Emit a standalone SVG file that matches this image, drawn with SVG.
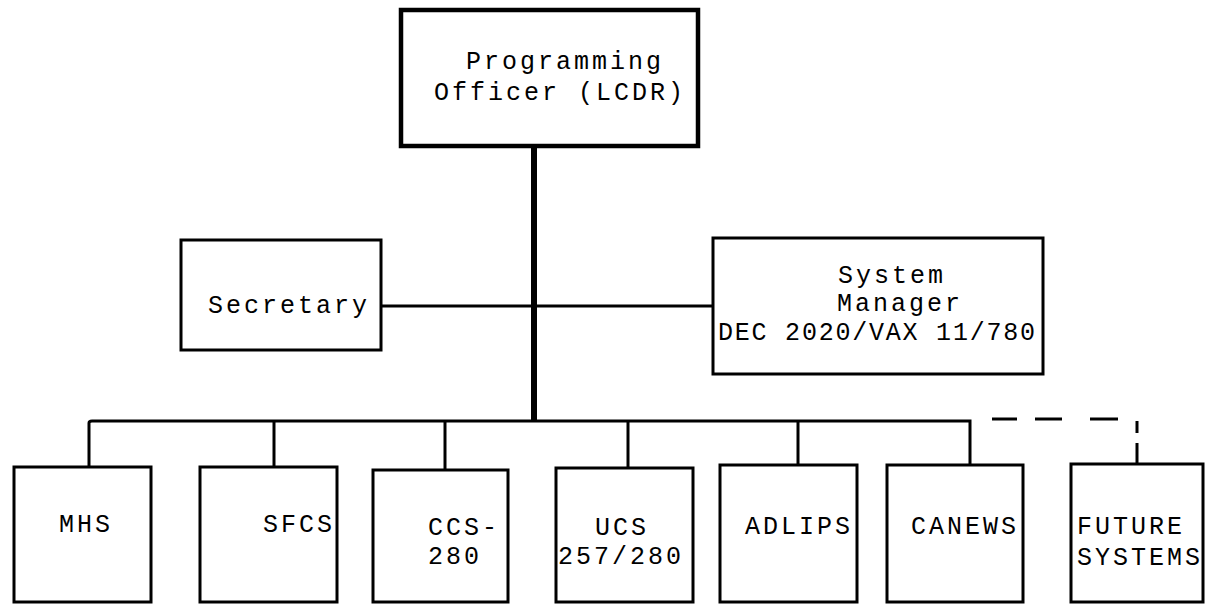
<svg xmlns="http://www.w3.org/2000/svg" width="1208" height="604" viewBox="0 0 1208 604">
<style>
.box{fill:#fff;stroke:#000;stroke-width:3}
.top{fill:#fff;stroke:#000;stroke-width:4.5}
.ln{stroke:#000;stroke-width:3;fill:none}
.trunk{stroke:#000;stroke-width:6;fill:none}
text{font-family:"Liberation Mono","Courier New",monospace;font-size:25px;letter-spacing:3px;fill:#000}
</style>
<rect width="1208" height="604" fill="#fff"/>
<g id="connectors">
<line class="trunk" x1="534" y1="146" x2="534" y2="421"/>
<line class="ln" x1="381" y1="306" x2="713" y2="306"/>
<path class="ln" d="M89 467 V423 Q89 421 92 421 H970 V465"/>
<line class="ln" x1="274" y1="421" x2="274" y2="467"/>
<line class="ln" x1="445" y1="421" x2="445" y2="470"/>
<line class="ln" x1="628" y1="421" x2="628" y2="468"/>
<line class="ln" x1="798" y1="421" x2="798" y2="465"/>
<g class="ln">
<line x1="992" y1="419" x2="1017" y2="419"/>
<line x1="1035" y1="419" x2="1062" y2="419"/>
<line x1="1090" y1="419" x2="1118" y2="419"/>
<line x1="1137" y1="421" x2="1137" y2="433"/>
<line x1="1137" y1="443" x2="1137" y2="464"/>
</g>
</g>
<g id="officer">
<rect class="top" x="401" y="10" width="297" height="136"/>
<text x="466" y="69">Programming</text>
<text x="434" y="100">Officer (LCDR)</text>
</g>
<g id="secretary">
<rect class="box" x="181" y="240" width="200" height="110"/>
<text x="208" y="313">Secretary</text>
</g>
<g id="sysmgr">
<rect class="box" x="713" y="238" width="330" height="136"/>
<text x="838" y="283">System</text>
<text x="837" y="311">Manager</text>
<text x="718" y="340" textLength="320" lengthAdjust="spacing">DEC 2020/VAX 11/780</text>
</g>
<g id="mhs">
<rect class="box" x="14" y="467" width="137" height="135"/>
<text x="59" y="532">MHS</text>
</g>
<g id="sfcs">
<rect class="box" x="200" y="467" width="137" height="135"/>
<text x="263" y="532">SFCS</text>
</g>
<g id="ccs">
<rect class="box" x="373" y="470" width="135" height="132"/>
<text x="428" y="535">CCS-</text>
<text x="428" y="564">280</text>
</g>
<g id="ucs">
<rect class="box" x="556" y="468" width="137" height="134"/>
<text x="595" y="535">UCS</text>
<text x="558" y="564">257/280</text>
</g>
<g id="adlips">
<rect class="box" x="720" y="465" width="137" height="137"/>
<text x="745" y="534">ADLIPS</text>
</g>
<g id="canews">
<rect class="box" x="887" y="465" width="136" height="137"/>
<text x="911" y="534">CANEWS</text>
</g>
<g id="future">
<rect class="box" x="1071" y="464" width="132" height="138"/>
<text x="1077" y="534">FUTURE</text>
<text x="1077" y="565">SYSTEMS</text>
</g>
</svg>
